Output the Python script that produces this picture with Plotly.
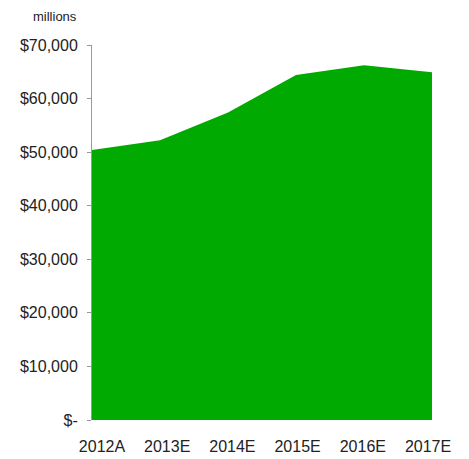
import plotly.graph_objects as go

categories = ["2012A", "2013E", "2014E", "2015E", "2016E", "2017E"]
values = [50400, 52200, 57400, 64400, 66200, 64900]
y_tick_vals = [0, 10000, 20000, 30000, 40000, 50000, 60000, 70000]
y_tick_text = ["$-", "$10,000", "$20,000", "$30,000", "$40,000", "$50,000", "$60,000", "$70,000"]
unit_label = "millions"

idx = list(range(len(categories)))

fig = go.Figure()
fig.add_trace(go.Scatter(
    x=idx, y=values,
    mode="lines", fill="tozeroy",
    line=dict(color="#00AA00", width=0),
    fillcolor="#00AA00",
    hoverinfo="skip",
))
# invisible carrier trace for the label axis
fig.add_trace(go.Scatter(
    x=idx, y=values, xaxis="x2", mode="markers",
    marker=dict(opacity=0), hoverinfo="skip", showlegend=False,
))

fig.update_layout(
    width=469, height=459,
    margin=dict(l=84, r=45, t=37, b=44),
    paper_bgcolor="white", plot_bgcolor="white",
    showlegend=False,
    font=dict(family="Liberation Sans, Arial, sans-serif", size=16, color="#222"),
    xaxis=dict(
        range=[0, len(categories) - 1],
        showgrid=False, zeroline=False, showline=False,
        showticklabels=False, ticks="",
    ),
    xaxis2=dict(
        overlaying="x", side="bottom",
        range=[-0.153, 5.061],
        tickvals=idx, ticktext=categories,
        showgrid=False, zeroline=False, showline=False,
        ticks="outside", ticklen=12, tickcolor="rgba(0,0,0,0)",
        tickfont=dict(size=16, color="#222"),
    ),
    yaxis=dict(
        range=[0, 70000],
        tickvals=y_tick_vals, ticktext=y_tick_text,
        showgrid=False, zeroline=False,
        showline=True, linecolor="#999", linewidth=1,
        ticks="outside", ticklen=4, tickcolor="#999",
        ticklabelstandoff=6,
        tickfont=dict(size=16, color="#222"),
    ),
    annotations=[dict(
        text=unit_label, xref="paper", yref="paper",
        x=-0.038, y=1.077, xanchor="right", yanchor="middle",
        showarrow=False, font=dict(size=13, color="#222"),
    )],
)

fig.write_html("out.html")
